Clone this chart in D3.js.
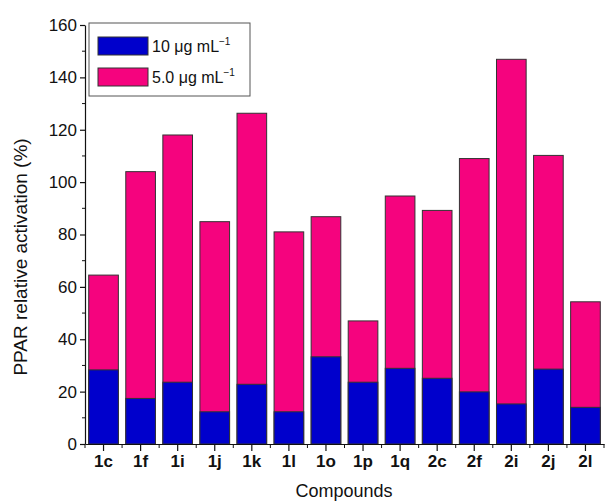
<!DOCTYPE html>
<html>
<head>
<meta charset="utf-8">
<script src="https://cdn.jsdelivr.net/npm/d3@7"></script>
<style>
body { margin: 0; background: #fff; }
text { font-family: "Liberation Sans", Arial, sans-serif; fill: #111; }
</style>
</head>
<body>
<div id="chart"></div>
<script>
var compounds = ["1c","1f","1i","1j","1k","1l","1o","1p","1q","2c","2f","2i","2j","2l"];
var dose10 = [28.3, 17.4, 23.6, 12.3, 22.8, 12.3, 33.3, 23.6, 28.9, 25.1, 19.9, 15.3, 28.6, 14.0];
var dose5 = [64.5, 104, 118, 84.9, 126.3, 81, 86.8, 47, 94.7, 89.2, 109, 146.9, 110.2, 54.3];
var yTicks = [0, 20, 40, 60, 80, 100, 120, 140, 160];

var w = 606, h = 503;
var svg = d3.select("#chart").append("svg")
	.attr("width", w)
	.attr("height", h);

var x = d3.scaleBand()
	.domain(compounds)
	.range([85, 604])
	.paddingInner(0.2)
	.paddingOuter(0.1);

var y = d3.scaleLinear()
	.domain([0, 160])
	.range([444, 25]);

// pink bars (5.0 ug/mL) behind, blue bars (10 ug/mL) in front
svg.selectAll(".bar5")
	.data(dose5)
	.enter()
	.append("rect")
	.attr("class", "bar5")
	.attr("x", function(d, i){ return x(compounds[i]); })
	.attr("y", function(d){ return y(d); })
	.attr("width", x.bandwidth())
	.attr("height", function(d){ return y(0) - y(d); })
	.attr("fill", "#f5037e")
	.attr("stroke", "#333")
	.attr("stroke-width", 1);

svg.selectAll(".bar10")
	.data(dose10)
	.enter()
	.append("rect")
	.attr("class", "bar10")
	.attr("x", function(d, i){ return x(compounds[i]); })
	.attr("y", function(d){ return y(d); })
	.attr("width", x.bandwidth())
	.attr("height", function(d){ return y(0) - y(d); })
	.attr("fill", "#0000cc")
	.attr("stroke", "#333")
	.attr("stroke-width", 1);

// y axis with minor ticks
var yMinor = d3.range(10, 160, 20);
svg.append("g")
	.attr("transform", "translate(85,0)")
	.selectAll("line")
	.data(yMinor)
	.enter()
	.append("line")
	.attr("x1", -3).attr("x2", 0)
	.attr("y1", function(d){ return y(d); })
	.attr("y2", function(d){ return y(d); })
	.attr("stroke", "#111");

var yAxis = svg.append("g")
	.attr("transform", "translate(85,0)")
	.call(d3.axisLeft(y).tickValues(yTicks).tickSize(5).tickPadding(3).tickSizeOuter(0));
yAxis.selectAll("text").attr("font-size", 17).style("font-family", "Liberation Sans, Arial, sans-serif");
yAxis.selectAll("line, path").attr("stroke", "#111").attr("stroke-width", 1.2);

// x axis: major ticks at categories, minor ticks between
var xMinor = d3.range(compounds.length + 1).map(function(i){ return 85 + i * x.step(); });
svg.append("g")
	.selectAll("line")
	.data(xMinor)
	.enter()
	.append("line")
	.attr("x1", function(d){ return d; })
	.attr("x2", function(d){ return d; })
	.attr("y1", 444).attr("y2", 448)
	.attr("stroke", "#111");

var xAxis = svg.append("g")
	.attr("transform", "translate(0,444)")
	.call(d3.axisBottom(x).tickSize(7).tickPadding(4).tickSizeOuter(0));
xAxis.selectAll("text")
	.attr("font-size", 17)
	.attr("font-weight", "bold")
	.style("font-family", "Liberation Sans, Arial, sans-serif");
xAxis.selectAll("line, path").attr("stroke", "#111").attr("stroke-width", 1.2);

// axis titles
svg.append("text")
	.attr("x", 344)
	.attr("y", 497)
	.attr("text-anchor", "middle")
	.attr("font-size", 18)
	.text("Compounds");

svg.append("text")
	.attr("transform", "translate(27,257) rotate(-90)")
	.attr("text-anchor", "middle")
	.attr("font-size", 19)
	.text("PPAR relative activation (%)");

// legend
var legend = svg.append("g").attr("class", "legend");
legend.append("rect")
	.attr("x", 89).attr("y", 23)
	.attr("width", 161).attr("height", 73)
	.attr("fill", "#fff")
	.attr("stroke", "#555")
	.attr("stroke-width", 1);

var legendItems = [
	{color: "#0000cc", label: "10 \u03bcg mL", y: 37},
	{color: "#f5037e", label: "5.0 \u03bcg mL", y: 68}
];
legend.selectAll(".sw")
	.data(legendItems)
	.enter()
	.append("rect")
	.attr("class", "sw")
	.attr("x", 98)
	.attr("y", function(d){ return d.y; })
	.attr("width", 50)
	.attr("height", 18)
	.attr("fill", function(d){ return d.color; })
	.attr("stroke", "#333");

var lt = legend.selectAll(".lt")
	.data(legendItems)
	.enter()
	.append("text")
	.attr("class", "lt")
	.attr("x", 152)
	.attr("y", function(d){ return d.y + 15; })
	.attr("font-size", 16);
lt.append("tspan").text(function(d){ return d.label; });
lt.append("tspan")
	.attr("dy", -7)
	.attr("font-size", 10)
	.text("\u22121");
</script>
</body>
</html>
